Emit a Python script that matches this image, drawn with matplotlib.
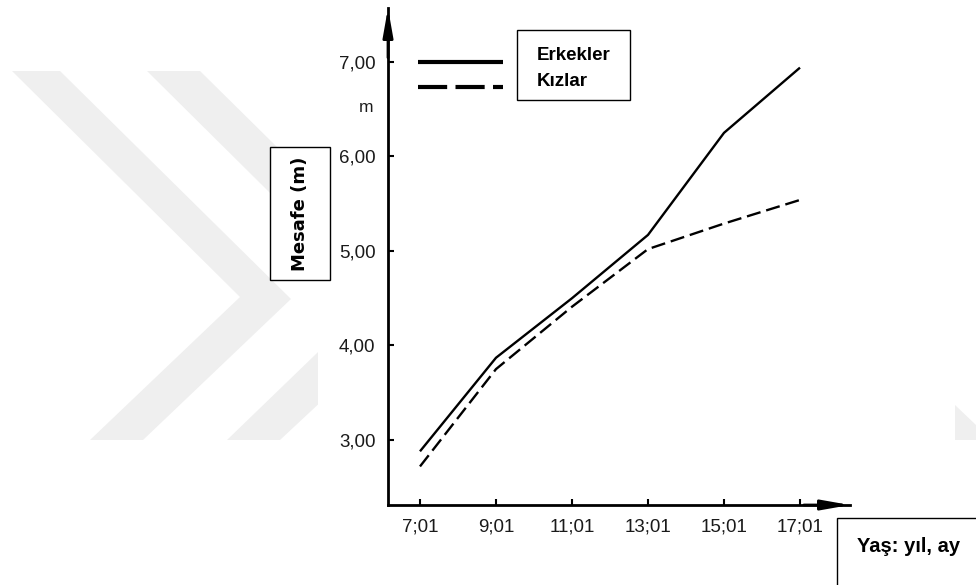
import matplotlib
matplotlib.use("Agg")
import matplotlib.pyplot as plt
from matplotlib.patches import Polygon, Rectangle

# yaş (yıl) ve mesafe (m) değerleri
yaslar = [7, 9, 11, 13, 15, 17]
yas_etiketleri = ["7;01", "9;01", "11;01", "13;01", "15;01", "17;01"]
erkekler = [2.88, 3.87, 4.50, 5.17, 6.25, 6.94]
kizlar = [2.72, 3.75, 4.41, 5.02, 5.29, 5.54]
y_degerleri = [3, 4, 5, 6, 7]
y_etiketleri = ["3,00", "4,00", "5,00", "6,00", "7,00"]

W, H = 976, 585
fig = plt.figure(figsize=(W / 100, H / 100), dpi=100)

# arka plan: soluk gri filigran
bg = fig.add_axes([0, 0, 1, 1], zorder=0)
bg.set_xlim(0, W)
bg.set_ylim(H, 0)
bg.axis("off")
gri = "#efefef"
bg.add_patch(Polygon([(12, 71), (60, 71), (291, 299), (143, 440), (90, 440), (240, 297)],
                     color=gri, lw=0))
bg.add_patch(Polygon([(147, 71), (200, 71), (431, 299), (280, 440), (227, 440), (375, 297)],
                     color=gri, lw=0))
bg.add_patch(Polygon([(955, 405), (976, 425), (976, 440), (955, 440)], color=gri, lw=0))
bg.add_patch(Rectangle((318, 0), 955 - 318, H, color="white", lw=0))

# grafik
ax = fig.add_axes([388 / W, 1 - 505 / H, (850 - 388) / W, (505 - 8) / H], zorder=2)
ax.set_facecolor("none")
ax.plot(yaslar, erkekler, color="black", lw=1.7, solid_capstyle="butt")
ax.plot(yaslar, kizlar, color="black", lw=1.7, dashes=(6, 2.5))
ax.set_xlim(6.158, 18.316)
ax.set_ylim(2.312, 7.571)

for s in ["top", "right"]:
    ax.spines[s].set_visible(False)
for s in ["left", "bottom"]:
    ax.spines[s].set_linewidth(2.0)

ax.set_xticks(yaslar)
ax.set_xticklabels(yas_etiketleri)
ax.set_yticks(y_degerleri)
ax.set_yticklabels(y_etiketleri)
ax.tick_params(axis="both", direction="in", length=4, width=1.5,
               labelsize=13.5, labelcolor="#1a1a1a")
ax.tick_params(axis="x", pad=10)
ax.tick_params(axis="y", pad=9)
for t in ax.get_xticklabels() + ax.get_yticklabels():
    t.set_family("Liberation Sans")

# eksen okları
ok = dict(arrowstyle="-|>,head_length=1.7,head_width=0.3", mutation_scale=10,
          color="black", lw=2.0, shrinkA=0, shrinkB=0)
ax.annotate("", xy=(0, 1), xytext=(0, 0.9), xycoords="axes fraction", arrowprops=ok,
            annotation_clip=False)
ax.annotate("", xy=(1, 0), xytext=(0.9, 0), xycoords="axes fraction", arrowprops=ok,
            annotation_clip=False)

# birim "m"
ax.text(-0.048, 0.8, "m", transform=ax.transAxes, ha="center", va="center",
        fontsize=12.5, color="#1a1a1a", family="Liberation Sans")

# üst katman: kutular ve yazılar
top = fig.add_axes([0, 0, 1, 1], zorder=3)
top.set_xlim(0, W)
top.set_ylim(H, 0)
top.axis("off")
top.set_facecolor("none")

# lejant çizgileri
top.plot([418, 503], [62, 62], color="black", lw=3, solid_capstyle="butt")
top.plot([418, 503], [87, 87], color="black", lw=3, dashes=(7, 2))
top.add_patch(Rectangle((517, 30), 113, 70, facecolor="white", edgecolor="black", lw=1))
top.text(537, 55, "Erkekler", ha="left", va="center", fontsize=13.5, fontweight="bold",
         family="Liberation Sans")
top.text(537, 82, "Kızlar", ha="left", va="center", fontsize=13.5, fontweight="bold",
         family="Liberation Sans")

# y ekseni başlığı
top.add_patch(Rectangle((270, 147), 60, 133, facecolor="white", edgecolor="black", lw=1))
top.text(300, 214, "Mesafe (m)", ha="center", va="center", rotation=90,
         fontsize=13, fontweight="bold", family="DejaVu Sans")

# x ekseni başlığı
top.add_patch(Rectangle((837, 518), 150, 90, facecolor="white", edgecolor="black", lw=1))
top.text(857, 546, "Yaş: yıl, ay", ha="left", va="center", fontsize=14.5, fontweight="bold",
         family="Liberation Sans")

fig.savefig("out.png", dpi=100)
